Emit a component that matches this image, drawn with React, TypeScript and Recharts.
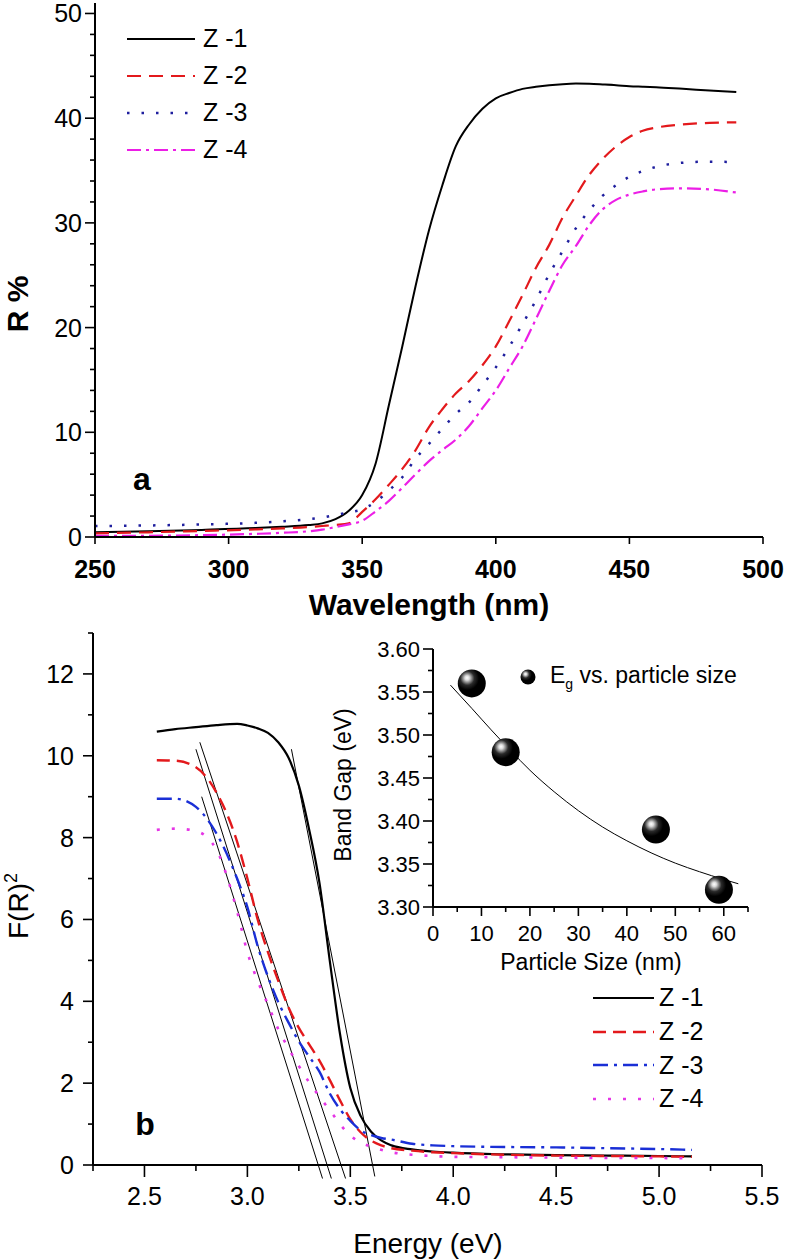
import React from "react";
import { LineChart, ComposedChart, Line, Scatter, XAxis, YAxis, Legend, ReferenceLine } from "recharts";

const FONT = "'Liberation Sans', Arial, Helvetica, sans-serif";

// ---------- panel a : reflectance vs wavelength ----------
const wavelength = [250, 270, 290, 310, 320, 330, 335, 340, 345, 350, 355, 360, 365, 370, 375, 380, 385, 390, 395, 400, 405, 410, 415, 420, 425, 430, 435, 440, 445, 450, 455, 460, 470, 480, 490];
const reflZ1 = [0.45, 0.55, 0.68, 0.85, 0.98, 1.15, 1.3, 1.7, 2.5, 4.0, 7.0, 12.6, 18.2, 24.0, 29.3, 33.6, 37.3, 39.4, 40.9, 41.9, 42.4, 42.8, 43.0, 43.15, 43.25, 43.3, 43.28, 43.22, 43.15, 43.05, 43.0, 42.95, 42.8, 42.65, 42.5];
const reflZ2 = [0.35, 0.45, 0.58, 0.72, 0.82, 0.95, 1.05, 1.15, 1.3, 2.4, 3.6, 5.0, 6.5, 8.3, 10.5, 12.2, 13.7, 14.9, 16.4, 18.2, 20.6, 23.1, 25.7, 27.9, 30.5, 32.6, 34.6, 36.1, 37.3, 38.2, 38.8, 39.1, 39.4, 39.55, 39.6];
const reflZ3 = [1.05, 1.1, 1.2, 1.35, 1.5, 1.7, 1.85, 2.1, 2.35, 2.65, 3.35, 4.45, 5.7, 7.5, 8.9, 10.35, 11.75, 12.85, 14.5, 16.2, 18.15, 20.35, 22.6, 25.1, 27.3, 29.5, 31.2, 32.6, 33.6, 34.4, 34.95, 35.35, 35.75, 35.85, 35.8];
const reflZ4 = [0.1, 0.12, 0.18, 0.3, 0.4, 0.55, 0.7, 0.95, 1.2, 1.55, 2.45, 3.45, 4.7, 6.0, 7.25, 8.3, 9.3, 10.6, 12.3, 14.0, 16.1, 18.2, 20.8, 23.5, 26.0, 27.8, 29.8, 31.3, 32.2, 32.7, 33.0, 33.2, 33.3, 33.2, 32.9];

const wavelengthTicks = [250, 300, 350, 400, 450, 500];
const reflTicks = [0, 2, 4, 6, 8, 10, 12, 14, 16, 18, 20, 22, 24, 26, 28, 30, 32, 34, 36, 38, 40, 42, 44, 46, 48, 50];

// ---------- panel b : F(R)^2 vs energy ----------
const energy = [2.56, 2.65, 2.75, 2.85, 2.95, 3.0, 3.05, 3.1, 3.15, 3.2, 3.25, 3.3, 3.35, 3.4, 3.45, 3.5, 3.55, 3.6, 3.65, 3.7, 3.8, 3.9, 4.0, 4.25, 4.5, 4.75, 5.0, 5.16];
const kmZ1 = [10.59, 10.65, 10.7, 10.75, 10.78, 10.74, 10.67, 10.56, 10.33, 9.95, 9.27, 8.2, 6.9, 5.0, 3.2, 1.88, 1.2, 0.82, 0.6, 0.48, 0.38, 0.33, 0.3, 0.26, 0.24, 0.23, 0.22, 0.21];
const kmZ2 = [9.89, 9.88, 9.72, 9.1, 7.9, 7.0, 6.0, 5.2, 4.5, 3.85, 3.35, 2.95, 2.55, 2.08, 1.58, 1.12, 0.8, 0.6, 0.48, 0.41, 0.35, 0.31, 0.29, 0.25, 0.23, 0.22, 0.21, 0.2];
const kmZ3 = [8.95, 8.95, 8.75, 8.1, 7.0, 6.3, 5.35, 4.6, 3.98, 3.48, 3.02, 2.65, 2.28, 1.75, 1.36, 1.08, 0.85, 0.73, 0.66, 0.62, 0.52, 0.48, 0.46, 0.44, 0.43, 0.41, 0.39, 0.37];
const kmZ4 = [8.19, 8.22, 8.16, 7.7, 6.2, 5.2, 4.5, 3.92, 3.32, 2.85, 2.42, 2.02, 1.67, 1.34, 1.0, 0.72, 0.55, 0.45, 0.37, 0.31, 0.25, 0.22, 0.2, 0.19, 0.18, 0.17, 0.17, 0.16];

// linear extrapolation lines (start / end points)
const tangentStartE = [2.778, 2.75, 2.769, 3.214];
const tangentStartF = [9.0, 10.16, 10.33, 10.16];
const tangentEndE = [3.365, 3.408, 3.477, 3.619];
const tangentEndF = [-0.33, -0.33, -0.33, -0.28];

const energyTicks = [2.25, 2.5, 2.75, 3.0, 3.25, 3.5, 3.75, 4.0, 4.25, 4.5, 4.75, 5.0, 5.25, 5.5];
const kmTicks = [0, 1, 2, 3, 4, 5, 6, 7, 8, 9, 10, 11, 12, 13];

// ---------- inset : band gap vs particle size ----------
const particleSize = [8, 15, 46, 59];
const bandGap = [3.56, 3.48, 3.39, 3.32];
const fitSize = [3.6, 8, 12, 16, 20, 25, 30, 35, 40, 45, 50, 55, 60, 63];
const fitGap = [3.558, 3.531, 3.506, 3.482, 3.459, 3.434, 3.412, 3.393, 3.377, 3.363, 3.351, 3.341, 3.332, 3.327];
const sizeTicks = [0, 5, 10, 15, 20, 25, 30, 35, 40, 45, 50, 55, 60, 65];
const gapTicks = [3.3, 3.325, 3.35, 3.375, 3.4, 3.425, 3.45, 3.475, 3.5, 3.525, 3.55, 3.575, 3.6];

const seriesNames = ["Z -1", "Z -2", "Z -3", "Z -4"];

const stylesA = [
  { key: "z1", color: "#000000", dash: undefined as string | undefined, width: 2 },
  { key: "z2", color: "#e3191c", dash: "14 8", width: 2.2 },
  { key: "z3", color: "#1f1f9e", dash: "2.5 12", width: 2.5 },
  { key: "z4", color: "#ec1ee6", dash: "14 5 3 5", width: 2.2 },
];
const stylesB = [
  { key: "z1", color: "#000000", dash: undefined as string | undefined, width: 2.2 },
  { key: "z2", color: "#e3191c", dash: "13 7", width: 2.4 },
  { key: "z3", color: "#1a2fd6", dash: "15 6 3 6", width: 2.4 },
  { key: "z4", color: "#e535e5", dash: "3 12", width: 2.6 },
];

const panelA = wavelength.map((w, i) => ({ w, z1: reflZ1[i], z2: reflZ2[i], z3: reflZ3[i], z4: reflZ4[i] }));
const panelB = energy.map((e, i) => ({ e, z1: kmZ1[i], z2: kmZ2[i], z3: kmZ3[i], z4: kmZ4[i] }));
const fitData = fitSize.map((s, i) => ({ size: s, eg: fitGap[i] }));
const pointData = particleSize.map((s, i) => ({ size: s, eg: bandGap[i] }));

type TickOpts = {
  major: (v: number) => boolean;
  label: (v: number) => string;
  majorLen: number;
  minorLen: number;
  gap: number;
  fontSize: number;
  bold?: boolean;
};

const leftTick = (o: TickOpts) => (p: any) => {
  const { x, y, payload } = p;
  const v = payload.value;
  const mj = o.major(v);
  return (
    <g>
      <line x1={x} x2={x - (mj ? o.majorLen : o.minorLen)} y1={y} y2={y} stroke="#000" strokeWidth={1.6} />
      {mj && (
        <text x={x - o.majorLen - o.gap} y={y} dy="0.36em" textAnchor="end" fontSize={o.fontSize}
          fontFamily={FONT} fontWeight={o.bold ? 700 : 400} fill="#000">
          {o.label(v)}
        </text>
      )}
    </g>
  );
};

const bottomTick = (o: TickOpts) => (p: any) => {
  const { x, y, payload } = p;
  const v = payload.value;
  const mj = o.major(v);
  return (
    <g>
      <line x1={x} x2={x} y1={y} y2={y + (mj ? o.majorLen : o.minorLen)} stroke="#000" strokeWidth={1.6} />
      {mj && (
        <text x={x} y={y + o.gap} dy="0.36em" textAnchor="middle" fontSize={o.fontSize}
          fontFamily={FONT} fontWeight={o.bold ? 700 : 400} fill="#000">
          {o.label(v)}
        </text>
      )}
    </g>
  );
};

const isMult = (v: number, step: number) => Math.abs(v / step - Math.round(v / step)) < 1e-6;
const frame = { stroke: "#000", strokeWidth: 2 };

function SeriesLegend({ styles, lineW, rowH, gap }: { styles: typeof stylesA; lineW: number; rowH: number; gap: number }) {
  return (
    <div style={{ fontFamily: FONT, fontSize: 25, color: "#000" }}>
      {styles.map((s, i) => (
        <div key={s.key} style={{ display: "flex", alignItems: "center", height: rowH }}>
          <svg width={lineW} height={6} style={{ display: "block" }}>
            <line x1={0} x2={lineW} y1={3} y2={3} stroke={s.color} strokeWidth={s.width} strokeDasharray={s.dash} />
          </svg>
          <span style={{ marginLeft: gap, lineHeight: 1 }}>{seriesNames[i]}</span>
        </div>
      ))}
    </div>
  );
}

function BallDefs({ id }: { id: string }) {
  return (
    <defs>
      <radialGradient id={id} cx="0.36" cy="0.34" fx="0.33" fy="0.3" r="0.66">
        <stop offset="0" stopColor="#ffffff" />
        <stop offset="0.12" stopColor="#dcdcdc" />
        <stop offset="0.24" stopColor="#8a8a8a" />
        <stop offset="0.38" stopColor="#2a2a2a" />
        <stop offset="0.62" stopColor="#000000" />
        <stop offset="1" stopColor="#000000" />
      </radialGradient>
    </defs>
  );
}

function Ball(props: any) {
  const { cx, cy } = props;
  return (
    <g>
      <BallDefs id="ballGrad" />
      <circle cx={cx} cy={cy} r={14} fill="url(#ballGrad)" />
    </g>
  );
}

function InsetLegend() {
  return (
    <div style={{ display: "flex", alignItems: "center", fontFamily: FONT, fontSize: 23, color: "#000", whiteSpace: "nowrap" }}>
      <svg width={18} height={18} style={{ display: "block" }}>
        <BallDefs id="legendBallGrad" />
        <circle cx={9} cy={9} r={7.5} fill="url(#legendBallGrad)" />
      </svg>
      <span style={{ marginLeft: 13 }}>
        E<sub style={{ fontSize: 14 }}>g</sub> vs. particle size
      </span>
    </div>
  );
}

function PanelA() {
  return (
    <LineChart width={787} height={640} data={panelA} margin={{ top: 3, right: 24, bottom: 0, left: 0 }}>
      <XAxis dataKey="w" type="number" domain={[250, 500]} ticks={wavelengthTicks} interval={0} height={103}
        tickSize={0} tickMargin={0} tickLine={false} axisLine={frame}
        tick={bottomTick({ major: () => true, label: (v) => String(v), majorLen: 7, minorLen: 0, gap: 32, fontSize: 25, bold: true })}
        label={{ content: () => <text x={429} y={615} textAnchor="middle" fontSize={30} fontWeight={700} fontFamily={FONT} fill="#000">Wavelength (nm)</text> }} />
      <XAxis xAxisId="top" orientation="top" type="number" domain={[250, 500]} height={0} tick={false} tickLine={false} axisLine={frame} />
      <YAxis type="number" domain={[0, 51]} ticks={reflTicks} interval={0} width={95}
        tickSize={0} tickMargin={0} tickLine={false} axisLine={frame}
        tick={leftTick({ major: (v) => v % 10 === 0, label: (v) => String(v), majorLen: 10, minorLen: 5, gap: 3, fontSize: 25 })}
        label={{ content: () => <text transform="translate(28,304) rotate(-90)" textAnchor="middle" fontSize={30} fontWeight={700} fontFamily={FONT} fill="#000">R %</text> }} />
      <YAxis yAxisId="right" orientation="right" type="number" domain={[0, 51]} width={0} tick={false} tickLine={false} axisLine={frame} />
      <Legend layout="vertical" align="center" verticalAlign="middle" wrapperStyle={{ left: 127, top: 20 }}
        content={() => <SeriesLegend styles={stylesA} lineW={68} rowH={37} gap={8} />} />
      {stylesA.map((s) => (
        <Line key={s.key} dataKey={s.key} type="monotone" stroke={s.color} strokeWidth={s.width} strokeDasharray={s.dash}
          dot={false} activeDot={false} isAnimationActive={false} />
      ))}
    </LineChart>
  );
}

function PanelB() {
  return (
    <LineChart width={787} height={640} data={panelB} margin={{ top: 13, right: 25, bottom: 0, left: 0 }}>
      <XAxis dataKey="e" type="number" domain={[2.25, 5.5]} ticks={energyTicks} interval={0} height={95}
        tickSize={0} tickMargin={0} tickLine={false} axisLine={frame}
        tick={bottomTick({ major: (v) => isMult(v, 0.5), label: (v) => v.toFixed(1), majorLen: 12, minorLen: 6, gap: 31, fontSize: 25 })}
        label={{ content: () => <text x={428} y={633} textAnchor="middle" fontSize={28} fontFamily={FONT} fill="#000">Energy (eV)</text> }} />
      <XAxis xAxisId="top" orientation="top" type="number" domain={[2.25, 5.5]} height={0} tick={false} tickLine={false} axisLine={frame} />
      <YAxis type="number" domain={[0, 13]} ticks={kmTicks} interval={0} width={93}
        tickSize={0} tickMargin={0} tickLine={false} axisLine={frame}
        tick={leftTick({ major: (v) => v % 2 === 0, label: (v) => String(v), majorLen: 10, minorLen: 5, gap: 9, fontSize: 25 })}
        label={{
          content: () => (
            <text transform="translate(28,286) rotate(-90)" textAnchor="middle" fontSize={28} fontFamily={FONT} fill="#000">
              F(R)<tspan fontSize={18} dy={-11}>2</tspan>
            </text>
          ),
        }} />
      <YAxis yAxisId="right" orientation="right" type="number" domain={[0, 13]} width={0} tick={false} tickLine={false} axisLine={frame} />
      <Legend layout="vertical" align="center" verticalAlign="middle" wrapperStyle={{ left: 593, top: 361 }}
        content={() => <SeriesLegend styles={stylesB} lineW={61} rowH={33.7} gap={5} />} />
      {tangentStartE.map((e, i) => (
        <ReferenceLine key={`t${i}`} ifOverflow="visible" stroke="#000" strokeWidth={1}
          segment={[{ x: e, y: tangentStartF[i] }, { x: tangentEndE[i], y: tangentEndF[i] }]} />
      ))}
      {stylesB.map((s) => (
        <Line key={s.key} dataKey={s.key} type="monotone" stroke={s.color} strokeWidth={s.width} strokeDasharray={s.dash}
          dot={false} activeDot={false} isAnimationActive={false} />
      ))}
    </LineChart>
  );
}

function Inset() {
  return (
    <ComposedChart width={430} height={360} margin={{ top: 29, right: 12, bottom: 0, left: 0 }}>
      <XAxis dataKey="size" type="number" domain={[0, 65]} ticks={sizeTicks} interval={0} height={73}
        tickSize={0} tickMargin={0} tickLine={false} axisLine={frame}
        tick={bottomTick({ major: (v) => v % 10 === 0, label: (v) => String(v), majorLen: 9, minorLen: 5, gap: 26, fontSize: 22 })}
        label={{ content: () => <text x={261} y={350} textAnchor="middle" fontSize={23} fontFamily={FONT} fill="#000">Particle Size (nm)</text> }} />
      <XAxis xAxisId="top" orientation="top" type="number" domain={[0, 65]} height={0} tick={false} tickLine={false} axisLine={frame} />
      <YAxis dataKey="eg" type="number" domain={[3.3, 3.6]} ticks={gapTicks} interval={0} width={103}
        tickSize={0} tickMargin={0} tickLine={false} axisLine={frame}
        tick={leftTick({ major: (v) => isMult(v, 0.05), label: (v) => v.toFixed(2), majorLen: 10, minorLen: 5, gap: 3, fontSize: 22 })}
        label={{ content: () => <text transform="translate(21,165) rotate(-90)" textAnchor="middle" fontSize={23} fontFamily={FONT} fill="#000">Band Gap (eV)</text> }} />
      <YAxis yAxisId="right" orientation="right" type="number" domain={[3.3, 3.6]} width={0} tick={false} tickLine={false} axisLine={frame} />
      <Legend layout="vertical" align="center" verticalAlign="middle" wrapperStyle={{ left: 189, top: 42 }} content={() => <InsetLegend />} />
      <Line data={fitData} dataKey="eg" type="monotone" stroke="#000" strokeWidth={1} dot={false} activeDot={false} isAnimationActive={false} />
      <Scatter data={pointData} dataKey="eg" shape={<Ball />} isAnimationActive={false} />
    </ComposedChart>
  );
}

export default function App() {
  return (
    <div style={{ position: "absolute", left: 0, top: 0, width: 787, height: 1260, background: "#fff", overflow: "hidden" }}>
      <div style={{ position: "absolute", left: 0, top: 0 }}>
        <PanelA />
      </div>
      <div style={{ position: "absolute", left: 0, top: 620 }}>
        <PanelB />
      </div>
      <div style={{ position: "absolute", left: 330, top: 620 }}>
        <Inset />
      </div>
      <svg width={787} height={1260} style={{ position: "absolute", left: 0, top: 0, pointerEvents: "none" }}>
        <text x={142} y={490} textAnchor="middle" fontSize={32} fontWeight={700} fontFamily={FONT} fill="#000">a</text>
        <text x={145} y={1135} textAnchor="middle" fontSize={32} fontWeight={700} fontFamily={FONT} fill="#000">b</text>
      </svg>
    </div>
  );
}
